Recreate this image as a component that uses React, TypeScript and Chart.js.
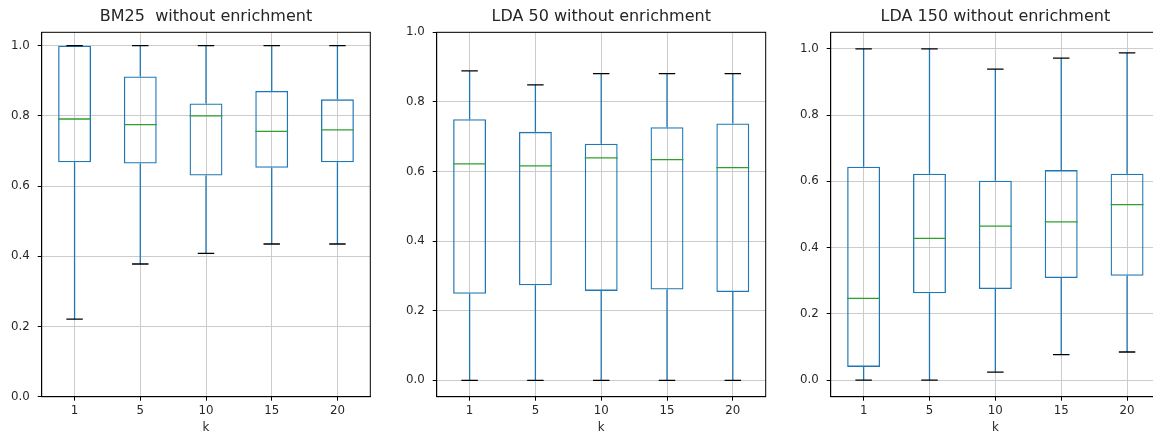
import React, { useEffect, useRef } from 'react';
import Chart from 'chart.js/auto';

const categories = ['1', '5', '10', '15', '20'];
const yTicks = [0, 0.2, 0.4, 0.6, 0.8, 1.0];

const bm25Low = [0.221, 0.378, 0.408, 0.435, 0.435];
const bm25Q1 = [0.668, 0.664, 0.63, 0.652, 0.668];
const bm25Median = [0.791, 0.775, 0.8, 0.756, 0.76];
const bm25Q3 = [1.0, 0.912, 0.835, 0.871, 0.847];
const bm25High = [1.0, 1.0, 1.0, 1.0, 1.0];

const lda50Low = [0, 0, 0, 0, 0];
const lda50Q1 = [0.249, 0.273, 0.257, 0.261, 0.254];
const lda50Median = [0.622, 0.616, 0.639, 0.634, 0.611];
const lda50Q3 = [0.75, 0.714, 0.68, 0.727, 0.738];
const lda50High = [0.889, 0.849, 0.881, 0.881, 0.881];

const lda150Low = [0, 0, 0.024, 0.077, 0.085];
const lda150Q1 = [0.04, 0.262, 0.275, 0.308, 0.315];
const lda150Median = [0.247, 0.428, 0.465, 0.478, 0.53];
const lda150Q3 = [0.644, 0.623, 0.602, 0.634, 0.623];
const lda150High = [1.0, 1.0, 0.939, 0.972, 0.988];

const FONT = 'DejaVu Sans';
const BLUE = '#1f77b4';
const GREEN = '#2ca02c';
const GRID = '#cccccc';
const TEXT = '#262626';
const H = 436;
const PLOT_TOP = 32.3;
const PLOT_BOTTOM = 396.7;

type Panel = {
  title: string;
  low: number[];
  q1: number[];
  med: number[];
  q3: number[];
  high: number[];
  yMin: number;
  yMax: number;
  left: number;
  width: number;
  yWidth: number;
  padRight: number;
};

const panels: Panel[] = [
  { title: 'BM25  without enrichment', low: bm25Low, q1: bm25Q1, med: bm25Median, q3: bm25Q3, high: bm25High, yMin: 0, yMax: 1.038, left: 0, width: 380, yWidth: 41.7, padRight: 9.7 },
  { title: 'LDA 50 without enrichment', low: lda50Low, q1: lda50Q1, med: lda50Median, q3: lda50Q3, high: lda50High, yMin: -0.047, yMax: 1.0, left: 390, width: 385, yWidth: 46.7, padRight: 9.3 },
  { title: 'LDA 150 without enrichment', low: lda150Low, q1: lda150Q1, med: lda150Median, q3: lda150Q3, high: lda150High, yMin: -0.05, yMax: 1.05, left: 780, width: 390, yWidth: 50.7, padRight: 10 },
];

function BoxPanel({ p }: { p: Panel }) {
  const ref = useRef<HTMLCanvasElement>(null);
  useEffect(() => {
    const canvas = ref.current!;
    const boxPlugin = {
      id: 'boxExtras',
      afterDatasetsDraw(chart: any) {
        const ctx = chart.ctx;
        const x = chart.scales.x;
        const y = chart.scales.y;
        const step = x.getPixelForValue(1) - x.getPixelForValue(0);
        const boxHalf = step * 0.25;
        const capHalf = step * 0.125;
        ctx.save();
        ctx.lineWidth = 1.3;
        for (let i = 0; i < categories.length; i++) {
          const cx = x.getPixelForValue(i);
          ctx.strokeStyle = BLUE;
          ctx.beginPath();
          ctx.moveTo(cx, y.getPixelForValue(p.q3[i]));
          ctx.lineTo(cx, y.getPixelForValue(p.high[i]));
          ctx.moveTo(cx, y.getPixelForValue(p.q1[i]));
          ctx.lineTo(cx, y.getPixelForValue(p.low[i]));
          ctx.stroke();
          ctx.strokeStyle = '#000';
          ctx.beginPath();
          ctx.moveTo(cx - capHalf, y.getPixelForValue(p.high[i]));
          ctx.lineTo(cx + capHalf, y.getPixelForValue(p.high[i]));
          ctx.moveTo(cx - capHalf, y.getPixelForValue(p.low[i]));
          ctx.lineTo(cx + capHalf, y.getPixelForValue(p.low[i]));
          ctx.stroke();
          ctx.strokeStyle = GREEN;
          ctx.beginPath();
          ctx.moveTo(cx - boxHalf, y.getPixelForValue(p.med[i]));
          ctx.lineTo(cx + boxHalf, y.getPixelForValue(p.med[i]));
          ctx.stroke();
        }
        const a = chart.chartArea;
        ctx.strokeStyle = '#000';
        ctx.lineWidth = 1;
        ctx.strokeRect(a.left, a.top, a.right - a.left, a.bottom - a.top);
        ctx.restore();
      },
    };
    const chart = new Chart(canvas, {
      type: 'bar',
      data: {
        labels: categories,
        datasets: [
          {
            data: p.q1.map((v, i) => [v, p.q3[i]]) as any,
            backgroundColor: 'rgba(0,0,0,0)',
            borderColor: BLUE,
            borderWidth: 1.3,
            borderSkipped: false,
            barPercentage: 0.5,
            categoryPercentage: 1,
          },
        ],
      },
      options: {
        responsive: false,
        animation: false,
        devicePixelRatio: 1,
        layout: { padding: { top: 0, left: 0, right: p.padRight, bottom: 0 } },
        plugins: {
          legend: { display: false },
          tooltip: { enabled: false },
          title: {
            display: true,
            text: p.title,
            fullSize: false,
            color: TEXT,
            font: { family: FONT, size: 16, weight: 'normal' },
            padding: { top: 7, bottom: PLOT_TOP - 7 - 19.2 },
          },
        },
        scales: {
          x: {
            type: 'category',
            offset: true,
            grid: { offset: false, color: GRID, lineWidth: 1, tickColor: '#000', tickLength: 4 },
            border: { color: '#000' },
            ticks: { color: TEXT, font: { family: FONT, size: 11.8 }, padding: 3, maxRotation: 0 },
            title: { display: true, text: 'k', color: TEXT, font: { family: FONT, size: 11.8 }, padding: { top: 0, bottom: 1 } },
            afterFit: (s: any) => { s.height = H - PLOT_BOTTOM; },
          },
          y: {
            type: 'linear',
            min: p.yMin,
            max: p.yMax,
            grid: { color: GRID, lineWidth: 1, tickColor: '#000', tickLength: 4 },
            border: { color: '#000' },
            ticks: { color: TEXT, font: { family: FONT, size: 11.8 }, padding: 8, callback: (v: any) => Number(v).toFixed(1) },
            afterBuildTicks: (s: any) => { s.ticks = yTicks.map((v) => ({ value: v })); },
            afterFit: (s: any) => { s.width = p.yWidth; },
          },
        },
      } as any,
      plugins: [boxPlugin],
    });
    return () => chart.destroy();
  }, [p]);
  return (
    <canvas
      ref={ref}
      width={p.width}
      height={H}
      style={{ position: 'absolute', left: p.left, top: 0, width: p.width, height: H }}
    />
  );
}

export default function App() {
  return (
    <div style={{ position: 'fixed', left: 0, top: 0, width: 1153, height: H, overflow: 'hidden', background: '#fff' }}>
      {panels.map((p) => (
        <BoxPanel key={p.title} p={p} />
      ))}
    </div>
  );
}
